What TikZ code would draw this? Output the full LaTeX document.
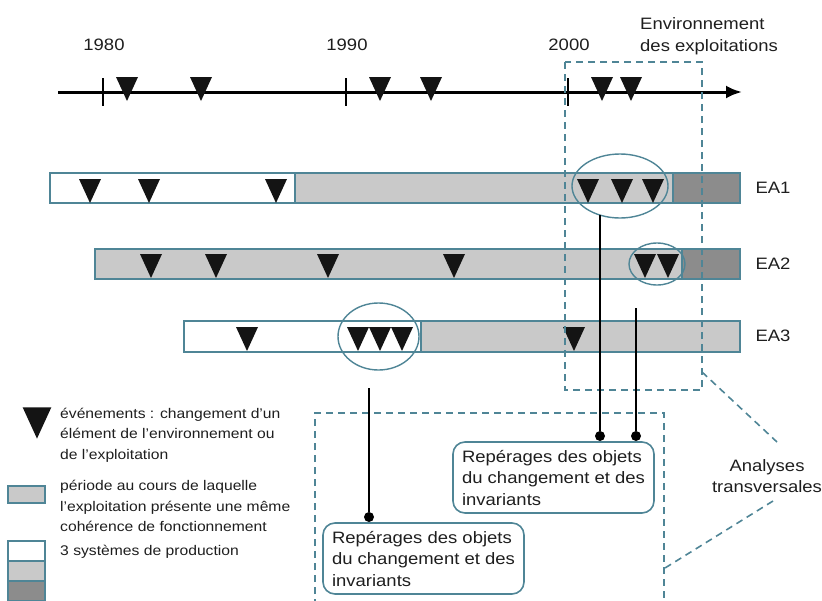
\documentclass[tikz,border=0pt]{standalone}
\usepackage{fontspec}
\setmainfont{Liberation Sans}[FakeStretch=1.12]
\usetikzlibrary{shapes.geometric,arrows.meta}
\definecolor{frame}{HTML}{4F8596}
\definecolor{ink}{HTML}{1E1E1E}
\definecolor{lightfill}{HTML}{C9C9C9}
\definecolor{darkfill}{HTML}{8C8C8C}
\begin{document}
\begin{tikzpicture}[x=1pt,y=-1pt,
  bigtext/.style={font=\fontsize{16.5}{21.5}\selectfont, text=ink},
  legendtext/.style={font=\fontsize{14}{20.5}\selectfont, text=ink, align=left, anchor=west, inner sep=0pt},
  barpart/.style={draw=frame, line width=1.6pt},
  ring/.style={draw=frame, line width=1.4pt, ellipse, inner sep=0pt},
  zone/.style={draw=frame, line width=1.6pt, dash pattern=on 7pt off 5pt},
  link/.style={line width=2.2pt, black},
  dot/.style={circle, fill=black, inner sep=0pt, minimum size=10pt},
  finding/.style={draw=frame, line width=1.6pt, rounded corners=12pt, align=left, bigtext,
    minimum width=201pt, minimum height=71pt, inner xsep=9pt},
  tick/.style={line width=2pt, black},
  evt/.pic={\fill[black!92] (-11,-12) -- (11,-12) -- (0,12) -- cycle;}
]
\useasboundingbox (0,0) rectangle (822,600);

% ---------- time axis ----------
\coordinate (axisL) at (58,92);
\coordinate (axisR) at (742,92);
\draw[line width=3pt, -{Latex[length=16pt,width=13pt]}] (axisL) -- (axisR);
\foreach \x/\yr in {103/1980, 346/1990, 568/2000}{
  \coordinate (t\yr a) at (\x,78);
  \coordinate (t\yr b) at (\x,106);
  \draw[tick] (t\yr a) -- (t\yr b);
  \node[bigtext] (y\yr) at (\x+1,45) {\yr};
}
\foreach \x in {127,201,380,431,602,631}
  \pic at (\x,89) {evt};

\node[bigtext, align=left, anchor=west, inner sep=0pt] (envlabel) at (640,36)
  {Environnement\\des exploitations};

% ---------- farm bars ----------
% EA1
\filldraw[barpart, fill=white]     (50,173) rectangle (295,203);
\filldraw[barpart, fill=lightfill] (295,173) rectangle (673,203);
\filldraw[barpart, fill=darkfill]  (673,173) rectangle (740,203);
\foreach \x in {90,149,276,588,622,653}
  \pic at (\x,191) {evt};
\node[bigtext, anchor=west] (ea1) at (752,188) {EA1};

% EA2
\filldraw[barpart, fill=lightfill] (95,249) rectangle (682,279);
\filldraw[barpart, fill=darkfill]  (682,249) rectangle (740,279);
\foreach \x in {151,216,328,454,645,668}
  \pic at (\x,266) {evt};
\node[bigtext, anchor=west] (ea2) at (752,264) {EA2};

% EA3
\filldraw[barpart, fill=white]     (184,321) rectangle (421,352);
\filldraw[barpart, fill=lightfill] (421,321) rectangle (740,352);
\foreach \x in {247,358,380,402,574}
  \pic at (\x,339) {evt};
\node[bigtext, anchor=west] (ea3) at (752,336) {EA3};

% ---------- grouped events ----------
\node[ring, minimum width=96pt, minimum height=64pt] (g1) at (620,186) {};
\node[ring, minimum width=56pt, minimum height=42pt] (g2) at (657,264) {};
\node[ring, minimum width=81pt, minimum height=67pt] (g3) at (378.5,336.5) {};

% ---------- dashed zones ----------
\draw[zone] (565,62) rectangle (702,390);
\draw[zone] (315,606) -- (315,413) -- (664,413) -- (664,606);
\coordinate (envcorner) at (702,372);
\coordinate (lowside) at (665,568);
\node[bigtext, align=center] (transv) at (767,476) {Analyses\\transversales};
\draw[zone] (envcorner) -- (777,442);
\draw[zone] (773,501) -- (lowside);

% ---------- findings ----------
\node[finding] (boxA) at (553.5,477.5) {Repérages des objets\\du changement et des\\invariants};
\node[finding] (boxB) at (423.5,558.5) {Repérages des objets\\du changement et des\\invariants};

\node[dot] (dA1) at (600,436) {};
\node[dot] (dA2) at (636,436) {};
\node[dot] (dB)  at (369,517) {};
\coordinate (s1) at (600,215);
\coordinate (s2) at (636,308);
\coordinate (s3) at (369,388);
\draw[link] (s1) -- (dA1);
\draw[link] (s2) -- (dA2);
\draw[link] (s3) -- (dB);

% ---------- key ----------
\pic[scale=1.3] at (37,423) {evt};
\node[legendtext] (k1) at (60,435)
  {événements : changement d'un\\élément de l'environnement ou\\de l'exploitation};
\filldraw[barpart, fill=lightfill] (8,486) rectangle (45,503);
\node[legendtext] (k2) at (60,506)
  {période au cours de laquelle\\l'exploitation présente une même\\cohérence de fonctionnement};
\filldraw[barpart, fill=white]     (8,541) rectangle (45,561);
\filldraw[barpart, fill=lightfill] (8,561) rectangle (45,581);
\filldraw[barpart, fill=darkfill]  (8,581) rectangle (45,601);
\node[legendtext] (k3) at (60,552) {3 systèmes de production};
\end{tikzpicture}
\end{document}
